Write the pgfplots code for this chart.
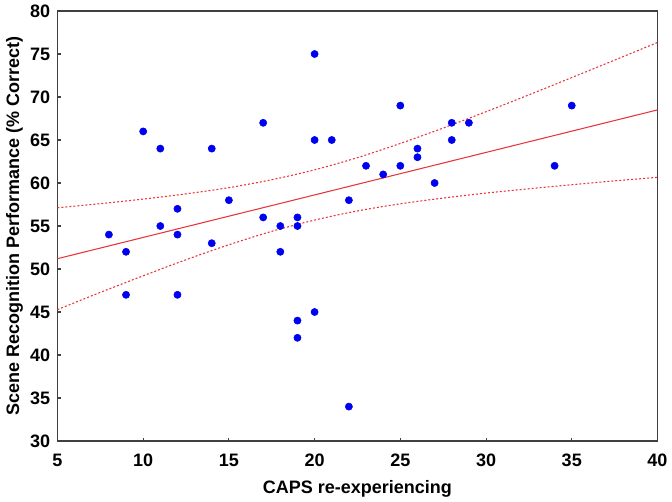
\documentclass[border=0pt]{standalone}
\usepackage{pgfplots}
\pgfplotsset{compat=1.18}
\usepackage{fontspec}
\setmainfont{Liberation Sans}
\definecolor{axgray}{HTML}{404040}
\definecolor{fitred}{HTML}{E8353A}
\definecolor{dotblue}{HTML}{0000F0}
\begin{document}
\begin{tikzpicture}
\begin{axis}[
  scale only axis,
  width=450pt, height=322.5pt,
  xmin=5, xmax=40, ymin=30, ymax=80,
  xtick={5,10,...,40}, ytick={30,35,...,80},
  axis line style={axgray, line width=1.3pt},
  tick style={axgray, line width=0.8pt},
  major tick length=2.5pt,
  tick align=inside,
  xtick pos=bottom, ytick pos=left,
  /pgf/number format/assume math mode=true,
  ticklabel style={font=\fontsize{13.5}{15}\selectfont\bfseries, text=black},
  xticklabel style={yshift=-6pt},
  yticklabel style={xshift=-2pt},
  xlabel={CAPS re-experiencing},
  ylabel={Scene Recognition Performance (\% Correct)},
  xlabel style={yshift=-3.5pt},
  ylabel style={yshift=-1.5pt},
  label style={font=\fontsize{13.5}{15}\selectfont\bfseries},
  clip=true,
]
\addplot[only marks, mark=*, mark size=2.7pt, draw=dotblue, fill=dotblue] coordinates {
(8,54)(9,52)(9,47)(10,66)(11,64)(11,55)(12,57)(12,54)(12,47)(14,64)(14,53)(15,58)
(17,67)(17,56)(18,55)(18,52)(19,56)(19,55)(19,44)(19,42)(20,75)(20,65)(20,45)(21,65)
(22,58)(22,34)(23,62)(24,61)(25,69)(25,62)(26,64)(26,63)(27,60)(28,67)(28,65)(29,67)
(34,62)(35,69)
};
\addplot[fitred, line width=0.8pt] coordinates {(5,51.2)(40,68.5)};
\addplot[fitred, line width=0.8pt, dash pattern=on 1.5pt off 1.5pt, smooth] coordinates {
(5,57.12)(7.5,57.60)(10,58.13)(12.5,58.74)(15,59.46)(17.5,60.38)(20,61.53)(22.5,62.95)
(25,64.60)(27.5,66.39)(30,68.29)(32.5,70.25)(35,72.26)(37.5,74.29)(40,76.34)
};
\addplot[fitred, line width=0.8pt, dash pattern=on 1.5pt off 1.5pt, smooth] coordinates {
(5,45.28)(7.5,47.28)(10,49.21)(12.5,51.08)(15,52.82)(17.5,54.38)(20,55.69)(22.5,56.75)
(25,57.58)(27.5,58.25)(30,58.83)(32.5,59.33)(35,59.80)(37.5,60.25)(40,60.66)
};
\end{axis}
\pgfresetboundingbox
\path (current axis.south west) ++(-43.1pt,-45pt) rectangle ++(504pt,375.75pt);
\end{tikzpicture}
\end{document}
